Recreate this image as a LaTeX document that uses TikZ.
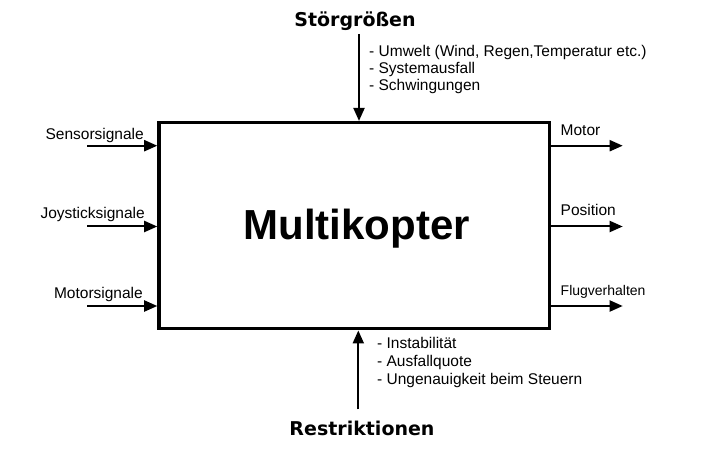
\documentclass[tikz,border=0pt]{standalone}
\usepackage{fontspec}
\setmainfont{Liberation Sans}
\newfontfamily\titlefont{DejaVu Sans}
\usetikzlibrary{arrows.meta}
\tikzset{
  arr/.style={line width=2bp, -{Triangle[length=13bp,width=11bp]}},
  lbl/.style={inner sep=0pt, font=\fontsize{15.5bp}{18bp}\selectfont},
  hd/.style={inner sep=0pt, font=\titlefont\bfseries\fontsize{19bp}{22bp}\selectfont},
  blk/.style={draw, line width=3.5bp, minimum width=390.5bp, minimum height=206bp, inner sep=0pt}
}
\begin{document}
\begin{tikzpicture}[x=1bp,y=-1bp]
\useasboundingbox (0,0) rectangle (725,455);
\node[blk] (box) at (354.25,225.7) {};
\node[inner sep=0pt, anchor=base, font=\bfseries\fontsize{42bp}{48bp}\selectfont] (name) at (356.7,240) {Multikopter};

% top
\node[hd, anchor=base] (stoer) at (355,27) {Störgrößen};
\coordinate (tin) at (359,34);
\draw[arr] (tin) -- (tin |- box.north);
\node[lbl, anchor=base west] (s1) at (369,56.5) {- Umwelt (Wind, Regen,Temperatur etc.)};
\node[lbl, anchor=base west] (s2) at (369,73.5) {- Systemausfall};
\node[lbl, anchor=base west] (s3) at (369,91) {- Schwingungen};

% bottom
\node[hd, anchor=base] (restr) at (362,435) {Restriktionen};
\coordinate (bin) at (358.3,409.3);
\draw[arr] (bin) -- (bin |- box.south);
\node[lbl, anchor=base west] (r1t) at (377,348.3) {- Instabilität};
\node[lbl, anchor=base west] (r2t) at (377,366) {- Ausfallquote};
\node[lbl, anchor=base west] (r3t) at (377,384) {- Ungenauigkeit beim Steuern};

% inputs
\coordinate (l1) at (87,145.7);
\coordinate (l2) at (87,226.5);
\coordinate (l3) at (87,306);
\draw[arr] (l1) -- (l1 -| box.west);
\draw[arr] (l2) -- (l2 -| box.west);
\draw[arr] (l3) -- (l3 -| box.west);
\node[lbl, anchor=base east] (in1) at (144,139.3) {Sensorsignale};
\node[lbl, anchor=base east] (in2) at (145,218.3) {Joysticksignale};
\node[lbl, anchor=base east] (in3) at (143,298.3) {Motorsignale};

% outputs
\coordinate (o1) at (622.7,145.7);
\coordinate (o2) at (622.7,226.5);
\coordinate (o3) at (622.7,306);
\draw[arr] (o1 -| box.east) -- (o1);
\draw[arr] (o2 -| box.east) -- (o2);
\draw[arr] (o3 -| box.east) -- (o3);
\node[lbl, anchor=base west] (out1) at (560.5,135.7) {Motor};
\node[lbl, anchor=base west] (out2) at (560.5,216) {Position};
\node[lbl, anchor=base west, font=\fontsize{14bp}{16bp}\selectfont] (out3) at (560.5,296) {Flugverhalten};
\end{tikzpicture}
\end{document}
